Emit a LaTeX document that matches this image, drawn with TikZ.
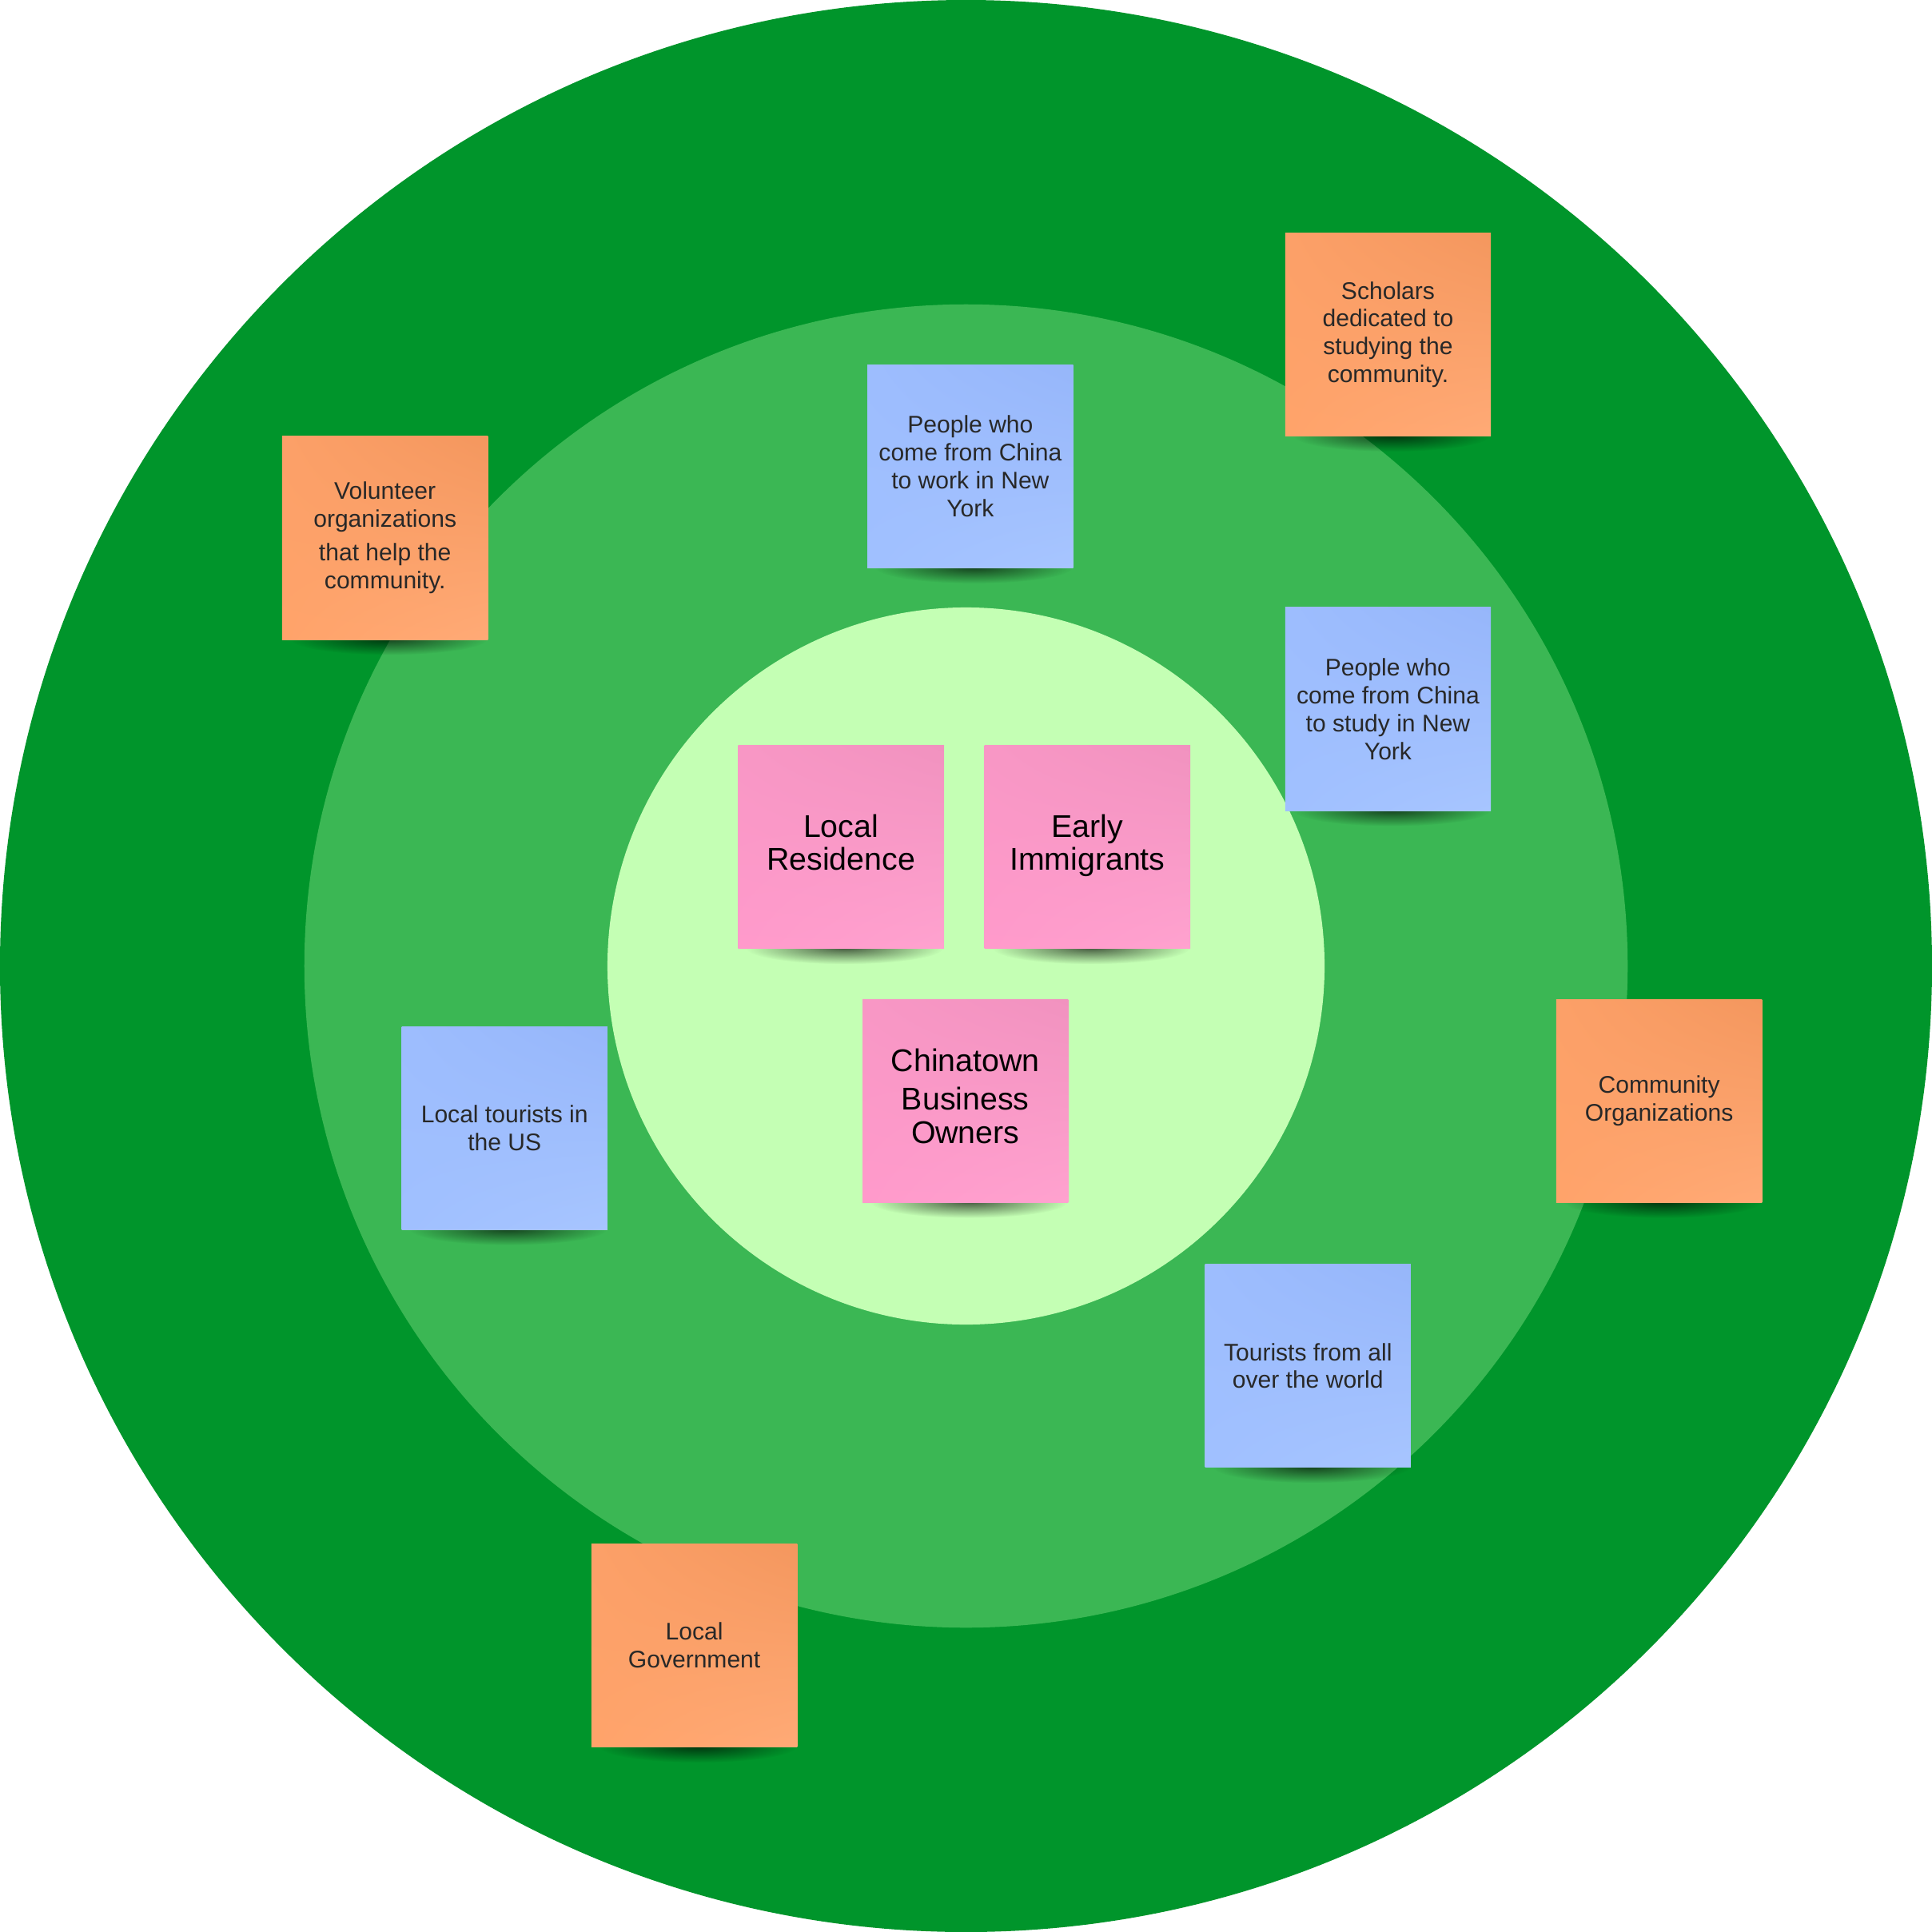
\documentclass[tikz,border=0pt]{standalone}
\usepackage{fontspec}
\setmainfont{Liberation Sans}
\usetikzlibrary{fadings,shadings}
\definecolor{outerg}{RGB}{0,149,43}
\definecolor{midg}{RGB}{59,183,84}
\definecolor{innerg}{RGB}{196,255,180}
\definecolor{notetext}{RGB}{40,40,40}
\definecolor{pinkUL}{RGB}{248,151,197}
\definecolor{pinkUR}{RGB}{241,146,191}
\definecolor{pinkLL}{RGB}{255,154,203}
\definecolor{pinkLR}{RGB}{255,162,207}
\definecolor{orUL}{RGB}{252,160,104}
\definecolor{orUR}{RGB}{244,151,94}
\definecolor{orLL}{RGB}{255,163,106}
\definecolor{orLR}{RGB}{255,170,118}
\definecolor{blUL}{RGB}{157,189,254}
\definecolor{blUR}{RGB}{150,182,250}
\definecolor{blLL}{RGB}{160,192,255}
\definecolor{blLR}{RGB}{167,197,255}
\tikzfading[name=shadowfade, inner color=transparent!10, outer color=transparent!100]
\tikzset{
  notebase/.style={minimum width=167, minimum height=165, inner sep=0pt, align=center},
  pinknote/.style={notebase, upper left=pinkUL, upper right=pinkUR, lower left=pinkLL, lower right=pinkLR,
     font=\fontsize{25.5}{27}\selectfont, text=black},
  orangenote/.style={notebase, upper left=orUL, upper right=orUR, lower left=orLL, lower right=orLR,
     font=\fontsize{19.5}{22.6}\selectfont, text=notetext},
  bluenote/.style={notebase, upper left=blUL, upper right=blUR, lower left=blLL, lower right=blLR,
     font=\fontsize{19.5}{22.6}\selectfont, text=notetext},
  noteshadow/.style={fill=black, fill opacity=0.7, path fading=shadowfade}
}
\newcommand\lift[1]{\raisebox{4pt}{\begin{tabular}{@{}c@{}}#1\end{tabular}}}
\newcommand\stickynote[5]{%
  \fill[noteshadow] (#2+3,#3+82) ellipse [x radius=80, y radius=13];
  \node[#4] (#1) at (#2,#3) {#5};
}
\begin{document}
\begin{tikzpicture}[x=1pt,y=-1pt]
\useasboundingbox (0,0) rectangle (1568,1568);
\fill[outerg] (784,784) circle [radius=784];
\fill[midg] (784,784) circle [radius=537];
\fill[innerg] (784,784) circle [radius=291];

\stickynote{scholars}{1126.5}{271.5}{orangenote}{Scholars\\dedicated to\\studying the\\community.}
\stickynote{volunteer}{312.5}{436.5}{orangenote}{Volunteer\\organizations\\[5pt]that help the\\community.}
\stickynote{work}{787.5}{378.5}{bluenote}{People who\\come from China\\to work in New\\York}
\stickynote{study}{1126.5}{575.5}{bluenote}{People who\\come from China\\to study in New\\York}
\stickynote{residence}{682.5}{687.5}{pinknote}{\lift{Local\\Residence}}
\stickynote{early}{882.5}{687.5}{pinknote}{\lift{Early\\Immigrants}}
\stickynote{owners}{783.5}{893.5}{pinknote}{\lift{Chinatown\\[4pt]Business\\Owners}}
\stickynote{localtourists}{409.5}{915.5}{bluenote}{Local tourists in\\the US}
\stickynote{communityorgs}{1346.5}{893.5}{orangenote}{Community\\Organizations}
\stickynote{worldtourists}{1061.5}{1108.5}{bluenote}{Tourists from all\\over the world}
\stickynote{government}{563.5}{1335.5}{orangenote}{Local\\Government}
\end{tikzpicture}
\end{document}
